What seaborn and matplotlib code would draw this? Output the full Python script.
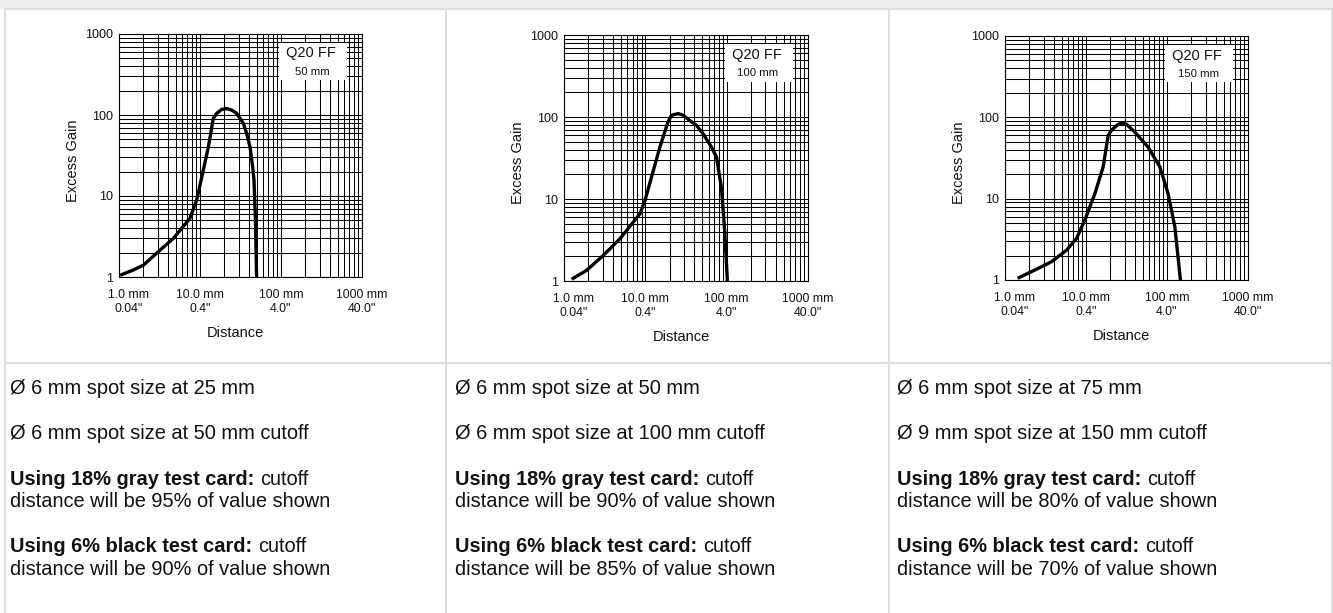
import matplotlib
matplotlib.use('Agg')
import matplotlib.pyplot as plt
import seaborn as sns
from matplotlib.patches import Rectangle
from matplotlib.ticker import LogLocator, NullFormatter
from matplotlib.transforms import ScaledTranslation

sns.set_style('white')
plt.rcParams['font.family'] = ['Liberation Sans Narrow', 'Liberation Sans', 'DejaVu Sans']

# --- data ---
ranges = ['50 mm', '100 mm', '150 mm']

dist_50 = [1.03, 1.5, 2.0, 2.9, 4.7, 7.5, 9.1, 11, 12.7, 14.6, 16.1, 18.5, 21.4, 24.6, 28.3,
           34.3, 37.7, 41.4, 44.7, 46.4, 48.2, 50]
gain_50 = [1.05, 1.22, 1.4, 1.96, 3.0, 5.3, 8.9, 21, 40.6, 91, 105, 117, 120, 115, 105,
           79, 59, 40.6, 23, 15.8, 5.6, 1.0]

dist_100 = [1.24, 1.9, 3.04, 4.9, 8.6, 9.9, 12.5, 15.1, 19, 21, 25.4, 29.2, 35, 42.6, 51,
            65, 75, 82, 86, 90, 95, 102]
gain_100 = [1.05, 1.35, 2.05, 3.3, 6.6, 9.6, 22, 43, 87, 105, 110, 105, 91, 79, 63,
            43, 32.5, 18.5, 14, 8, 3.8, 1.0]

dist_150 = [1.43, 2.35, 3.76, 5.76, 7.65, 9.7, 12.9, 16.3, 18.8, 20.7, 22.7, 25, 27.4, 31.7,
            40, 58.5, 81.5, 103, 125, 146.5]
gain_150 = [1.05, 1.33, 1.68, 2.33, 3.25, 5.5, 11.6, 24.7, 60, 69.5, 76, 82, 85, 82,
            66, 43, 24.7, 11.6, 4.5, 1.0]

xtick_vals = [1, 10, 100, 1000]
xtick_labels = ['1.0 mm\n0.04"', '10.0 mm\n0.4"', '100 mm\n4.0"', '1000 mm\n40.0"']
ytick_vals = [1, 10, 100, 1000]
ytick_labels = ['1', '10', '100', '1000']

spot_line1 = ['Ø 6 mm spot size at 25 mm', 'Ø 6 mm spot size at 50 mm', 'Ø 6 mm spot size at 75 mm']
spot_line2 = ['Ø 6 mm spot size at 50 mm cutoff', 'Ø 6 mm spot size at 100 mm cutoff',
              'Ø 9 mm spot size at 150 mm cutoff']
gray_pct = [95, 90, 80]
black_pct = [90, 85, 70]

curves = [(dist_50, gain_50), (dist_100, gain_100), (dist_150, gain_150)]

# --- layout (pixels) ---
W, H = 1333, 613
fig = plt.figure(figsize=(W / 100, H / 100), dpi=100)
fig.patch.set_facecolor('white')

bg = fig.add_axes([0, 0, 1, 1])
bg.set_xlim(0, W)
bg.set_ylim(H, 0)
bg.axis('off')

border = '#dddddd'
bg.add_patch(Rectangle((0, 0), W, 9, color='#efefef', lw=0))
bg.plot([5, 1331.5], [9, 9], color=border, lw=1.5)
bg.plot([5, 1331.5], [362.5, 362.5], color=border, lw=1.5)
for xv in [5, 446, 888.5, 1331.5]:
    bg.plot([xv, xv], [9, H], color=border, lw=1.5)

# body text of each column
body_fs = 14.4
body_font = ['Liberation Sans', 'DejaVu Sans']
col_x = [10, 455, 897]
base_y = [394.2, 439.2, 485.2, 507.4, 552.2, 575.0]
txt_kw = dict(fontsize=body_fs, family=body_font, color='#111111', va='baseline', ha='left')
for i, x0 in enumerate(col_x):
    bg.text(x0, base_y[0], spot_line1[i], **txt_kw)
    bg.text(x0, base_y[1], spot_line2[i], **txt_kw)
    for j, (head, pct) in enumerate([('Using 18% gray test card:', gray_pct[i]),
                                     ('Using 6% black test card:', black_pct[i])]):
        t = bg.text(x0, base_y[2 + 2 * j], head, weight='bold', **txt_kw)
        bg.annotate('cutoff', xy=(1, 0), xycoords=t, xytext=(4.0, 0), textcoords='offset points',
                    fontsize=body_fs, family=body_font, color='#111111', va='bottom', ha='left')
        bg.text(x0, base_y[3 + 2 * j], f'distance will be {pct}% of value shown', **txt_kw)

# --- charts ---
rects = [(119, 34, 362, 277), (564, 35, 808, 281), (1005, 36, 1248, 280)]

for (l, t, r, b), (xs, ys), rng in zip(rects, curves, ranges):
    ax = fig.add_axes([l / W, 1 - b / H, (r - l) / W, (b - t) / H])
    ax.set_xscale('log')
    ax.set_yscale('log')
    ax.set_xlim(1, 1000)
    ax.set_ylim(1, 1000)
    ax.set_axisbelow(True)
    ax.set_facecolor('white')

    for axis in (ax.xaxis, ax.yaxis):
        axis.set_minor_locator(LogLocator(base=10, subs=range(2, 10)))
        axis.set_minor_formatter(NullFormatter())
    ax.grid(which='both', color='black', lw=0.75)

    ax.set_xticks(xtick_vals, xtick_labels)
    ax.set_yticks(ytick_vals, ytick_labels)
    ax.tick_params(which='minor', length=0)
    ax.tick_params(which='major', length=3.6, width=0.8, color='black', direction='out',
                   labelsize=8.8, labelcolor='#111111')
    ax.tick_params(axis='x', pad=5)
    ax.tick_params(axis='y', pad=1, labelsize=9)
    for sp in ax.spines.values():
        sp.set_color('black')
        sp.set_linewidth(0.8)

    sns.lineplot(x=xs, y=ys, ax=ax, color='black', linewidth=2.4, sort=False,
                 estimator=None, zorder=5, solid_joinstyle='round', solid_capstyle='butt')

    # white label box
    ax.add_patch(Rectangle((0.66, 0.81), 0.277, 0.155, transform=ax.transAxes,
                           facecolor='white', edgecolor='none', zorder=3))
    ax.text(0.79, 0.92, 'Q20 FF', transform=ax.transAxes, ha='center', va='center',
            fontsize=10.5, color='#111111', zorder=4)
    ax.text(0.795, 0.845, rng, transform=ax.transAxes, ha='center', va='center',
            fontsize=8.2, color='#111111', zorder=4)

    ax.set_xlabel('Distance', fontsize=10.5, color='#111111')
    ax.set_ylabel('Excess Gain', fontsize=10.5, color='#111111')
    ax.xaxis.set_label_coords(0.48, -0.2)
    ax.yaxis.set_label_coords(-0.16, 0.48)

    # first x label sits slightly right of its tick
    first = ax.get_xticklabels()[0]
    first.set_transform(first.get_transform() + ScaledTranslation(0.10, 0, fig.dpi_scale_trans))

fig.savefig('out.png', dpi=100)
